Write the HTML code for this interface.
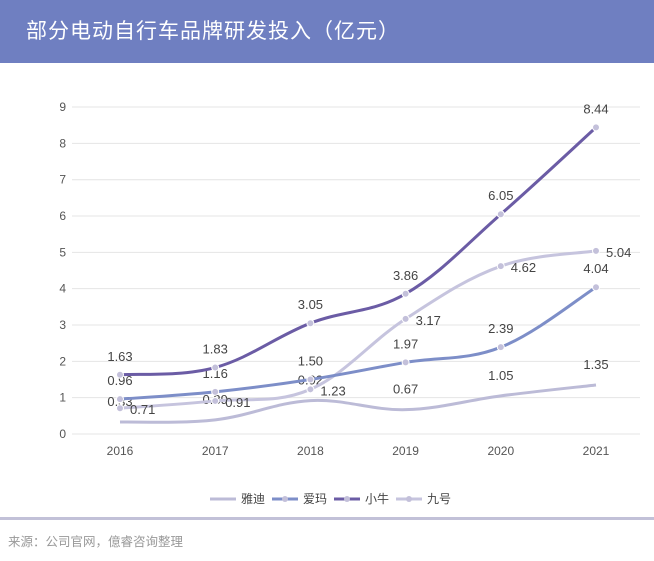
<!DOCTYPE html>
<html><head><meta charset="utf-8"><style>
body{margin:0;width:654px;height:561px;background:#fff;font-family:"Liberation Sans","Noto Sans CJK SC",sans-serif;overflow:hidden;position:relative}
#title{position:absolute;left:0;top:0;width:654px;height:63px;background:#6f7fc1;color:#fff;font-size:21px;line-height:63px;padding-left:26px;box-sizing:border-box;letter-spacing:1px}
#sep{position:absolute;left:0;top:517px;width:654px;height:3px;background:#c2c1d8}
#src{position:absolute;left:8px;top:531px;font-size:12.5px;color:#999}
svg{position:absolute;left:0;top:0}
</style></head><body>
<div id="title">部分电动自行车品牌研发投入（亿元）</div>
<svg id="chart" width="654" height="515"></svg>
<div id="sep"></div>
<div id="src">来源：公司官网，億睿咨询整理</div>
<script>
const years=["2016","2017","2018","2019","2020","2021"];
const yTicks=[0,1,2,3,4,5,6,7,8,9];
const yadi=[0.33,0.39,0.92,0.67,1.05,1.35];
const aima=[0.96,1.16,1.50,1.97,2.39,4.04];
const niu=[1.63,1.83,3.05,3.86,6.05,8.44];
const ninebot=[0.71,0.91,1.23,3.17,4.62,5.04];
const NS="http://www.w3.org/2000/svg";
const svg=document.getElementById('chart');
const X=i=>120+i*95.2;
const Y=v=>434-v*36.33;
function mk(t,a,p){const e=document.createElementNS(NS,t);for(const k in a)e.setAttribute(k,a[k]);(p||svg).appendChild(e);return e;}
yTicks.forEach(t=>{
  const l=mk('line',{x1:72,x2:640,y1:Y(t),y2:Y(t),stroke:'#e4e4e4','stroke-width':1});
  
  
  const tx=mk('text',{x:66,y:Y(t)+4,'text-anchor':'end','font-size':12,fill:'#555'});
  tx.textContent=t;
  
  
});
years.forEach((y,i)=>{
  const tx=mk('text',{x:X(i),y:455,'text-anchor':'middle','font-size':12,fill:'#555'});
  tx.textContent=y;
  
  
});
function path(vals){
  const p=vals.map((v,i)=>[X(i),Y(v)]);
  let d='M'+p[0][0]+','+p[0][1];
  for(let i=0;i<p.length-1;i++){
    const p0=p[i-1]||p[i],p1=p[i],p2=p[i+1],p3=p[i+2]||p2;
    const t=0.18;
    d+=' C'+(p1[0]+(p2[0]-p0[0])*t)+','+(p1[1]+(p2[1]-p0[1])*t)+' '+(p2[0]-(p3[0]-p1[0])*t)+','+(p2[1]-(p3[1]-p1[1])*t)+' '+p2[0]+','+p2[1];
  }
  return d;
}
const series=[
 {name:'yadi',vals:yadi,color:'#bcbbd7',marker:false,dx:0,dy:-16,anchor:'middle'},
 {name:'ninebot',vals:ninebot,color:'#c6c4de',marker:true,dx:10,dy:6,anchor:'start'},
 {name:'aima',vals:aima,color:'#7d8ec8',marker:true,dx:0,dy:-14,anchor:'middle'},
 {name:'niu',vals:niu,color:'#6b5ca5',marker:true,dx:0,dy:-14,anchor:'middle'}
];
series.forEach(s=>{
  const g=mk('g',{});
  
  
  const pa=mk('path',{d:path(s.vals),fill:'none',stroke:s.color,'stroke-width':3},g);
  
  
  s.vals.forEach((v,i)=>{
    if(s.marker){
      const c=mk('circle',{cx:X(i),cy:Y(v),r:3.5,fill:'#c3c0da',stroke:'#fff','stroke-width':1},g);
      
      
    }
    const t=mk('text',{x:X(i)+s.dx,y:Y(v)+s.dy,'text-anchor':s.anchor,'font-size':13,fill:'#444'},g);
    t.textContent=v.toFixed(2);
    
    
  });
});
const leg=[['雅迪','#bcbbd7',false],['爱玛','#7d8ec8',true],['小牛','#6b5ca5',true],['九号','#c6c4de',true]];
let lx=210;
leg.forEach(l=>{
  const g=mk('g',{});
  
  
  mk('line',{x1:lx,x2:lx+26,y1:499,y2:499,stroke:l[1],'stroke-width':3},g);
  if(l[2])mk('circle',{cx:lx+13,cy:499,r:3,fill:'#c3c0da'},g);
  const t=mk('text',{x:lx+31,y:503,'font-size':12,fill:'#444'},g);
  t.textContent=l[0];
  lx+=62;
});
</script>
</body></html>
